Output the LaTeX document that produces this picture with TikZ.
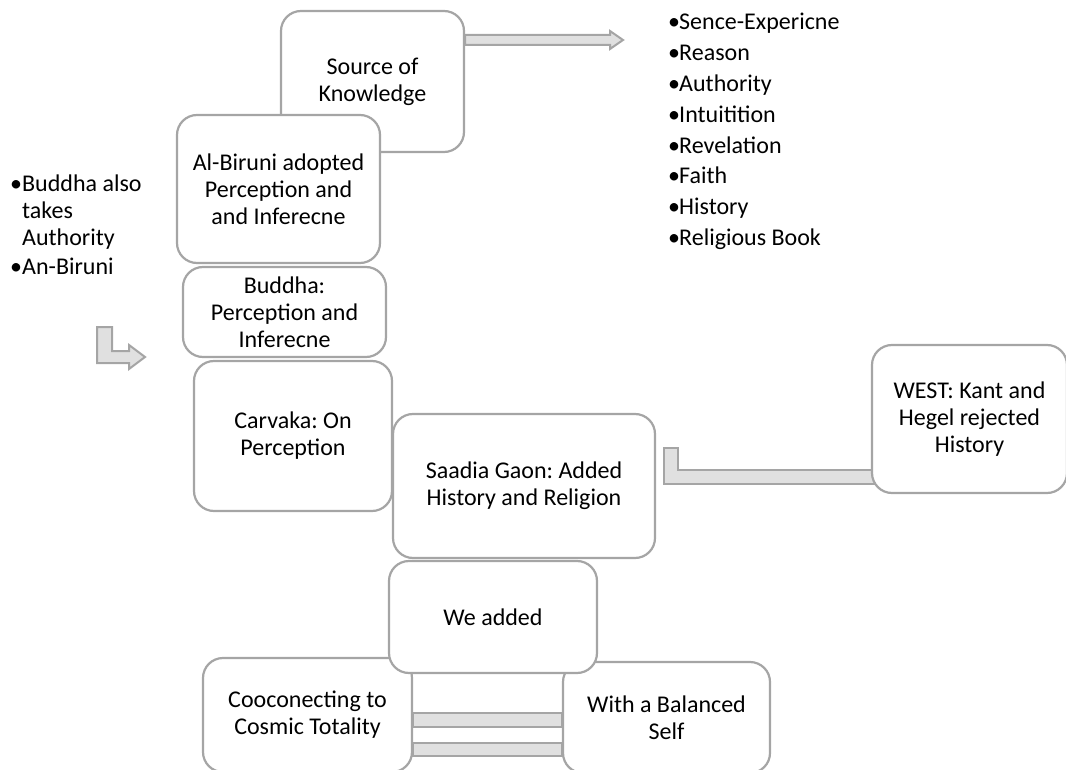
\documentclass[tikz,border=0pt]{standalone}
\usepackage{fontspec}
\setmainfont{Carlito}
\usetikzlibrary{calc}
\frenchspacing

\definecolor{boxline}{HTML}{A5A5A5}
\definecolor{barfill}{HTML}{E0E0E0}

\tikzset{
  box/.style={draw=boxline, line width=2.2pt, fill=white, rounded corners=20pt,
    align=center, inner sep=0pt, font=\fontsize{24}{27}\selectfont},
  blockarrow/.style={draw=boxline, line width=2pt, fill=barfill, line join=miter},
  listitem/.style={anchor=base west, inner sep=0pt, font=\fontsize{24}{27}\selectfont}
}
\newcommand{\bul}{\makebox[11pt][l]{•}}

\begin{document}
\begin{tikzpicture}[x=1pt,y=-1pt]
\useasboundingbox (0,0) rectangle (1066,770);
\clip (0,0) rectangle (1066,770);

% top box and its arrow to the list
\node[box, minimum width=183pt, minimum height=141pt] (src) at (372.5,81.5) {Source of\\Knowledge};
\coordinate (srctip) at (623,40);
\draw[blockarrow] (src.east |- 0,35) -- (610,35) -- (610,31) -- (srctip)
  -- (610,49) -- (610,45) -- (src.east |- 0,45) -- cycle;

\node[box, minimum width=203pt, minimum height=148pt] (albiruni) at (278.5,189)
  {Al-Biruni adopted\\Perception and\\and Inferecne};
\node[box, minimum width=203pt, minimum height=90pt] (buddha) at (284.5,312)
  {Buddha:\\Perception and\\Inferecne};
\node[box, minimum width=198pt, minimum height=150pt] (carvaka) at (293,436)
  {Carvaka: On\\Perception};
\node[box, minimum width=262pt, minimum height=144pt] (saadia) at (524,486)
  {Saadia Gaon: Added\\History and Religion};

% bent bar from the west box
\draw[blockarrow] (664,448) -- (678,448) -- (678,470) -- (880,470)
  -- (880,484) -- (664,484) -- cycle;
\node[box, minimum width=195pt, minimum height=148pt] (west) at (969.5,419)
  {WEST: Kant and\\Hegel rejected\\History};

% bottom row
\node[box, minimum width=209pt, minimum height=114pt] (cosmic) at (307.5,715)
  {Cooconecting to\\Cosmic Totality};
\node[box, minimum width=207pt, minimum height=111pt] (balanced) at (666.5,717.5)
  {With a Balanced\\Self};
\foreach \ya/\yb in {713/727, 743/756}
  \draw[blockarrow] (cosmic.east |- 0,\ya) rectangle (balanced.west |- 0,\yb);
\node[box, minimum width=208pt, minimum height=112pt] (weadded) at (493,617) {We added};

% left bent arrow
\draw[blockarrow] (97,327) -- (112,327) -- (112,351) -- (129,351) -- (129,345)
  -- (145,357) -- (129,369) -- (129,363) -- (97,363) -- cycle;

% lists
\foreach \item [count=\i from 0] in {Sence-Expericne, Reason, Authority, Intuitition,
    Revelation, Faith, History, Religious Book}
  \node[listitem] (src\i) at (668,{30+30.8*\i}) {\bul\item};

\node[listitem] (lefta) at (10,192) {\makebox[12pt][l]{•}Buddha also};
\node[listitem] (leftb) at (22,219) {takes};
\node[listitem] (leftc) at (22,246) {Authority};
\node[listitem] (leftd) at (10,275) {\makebox[12pt][l]{•}An-Biruni};
\end{tikzpicture}
\end{document}
